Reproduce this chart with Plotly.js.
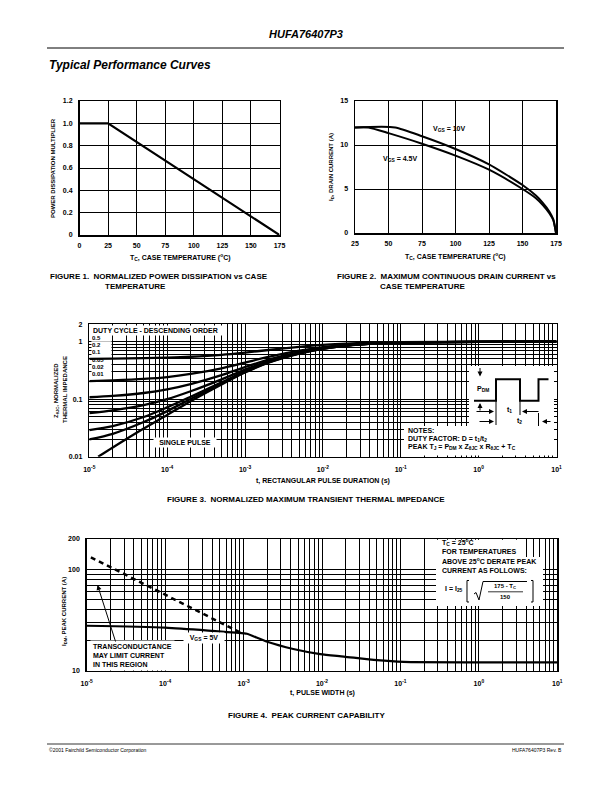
<!DOCTYPE html>
<html><head><meta charset="utf-8">
<script src="https://cdn.plot.ly/plotly-3.0.1.min.js"></script>
<style>html,body{margin:0;padding:0;background:#fff}#chart{width:612px;height:792px}</style>
</head><body><div id="chart"></div>
<script>
// ---------- Figure 1 data ----------
const fig1Temp = [0, 25, 175];
const fig1Mult = [1.0, 1.0, 0.0];
const fig1XTicks = [0, 25, 50, 75, 100, 125, 150, 175];
const fig1YTicks = [0, 0.2, 0.4, 0.6, 0.8, 1.0, 1.2];
const fig1YText = ['0', '0.2', '0.4', '0.6', '0.8', '1.0', '1.2'];

// ---------- Figure 2 data ----------
const fig2Temp10 = [25, 55, 75, 100, 125, 150, 160, 165, 170, 173, 175];
const fig2Id10 = [12, 12, 11.0, 9.55, 7.8, 5.45, 4.25, 3.45, 2.45, 1.55, 0];
const fig2Temp45 = [25, 35, 50, 75, 100, 125, 150, 160, 165, 170, 173, 175];
const fig2Id45 = [12, 12, 11.35, 10.15, 8.8, 7.2, 5.0, 3.95, 3.2, 2.25, 1.45, 0];
const fig2XTicks = [25, 50, 75, 100, 125, 150, 175];
const fig2YTicks = [0, 5, 10, 15];

// ---------- Figure 3 data ----------
const fig3Time = [1e-5, 2e-5, 5e-5, 1e-4, 2e-4, 5e-4, 1e-3, 2e-3, 5e-3, 1e-2, 2e-2, 5e-2, 1e-1, 1, 10];
const fig3Z_D05  = [0.50, 0.505, 0.515, 0.527, 0.546, 0.59, 0.645, 0.715, 0.81, 0.875, 0.925, 0.965, 0.98, 0.995, 1.0];
const fig3Z_D02  = [0.205, 0.212, 0.225, 0.242, 0.274, 0.344, 0.432, 0.544, 0.696, 0.80, 0.88, 0.944, 0.968, 0.992, 1.0];
const fig3Z_D01  = [0.108, 0.114, 0.128, 0.148, 0.183, 0.262, 0.361, 0.487, 0.658, 0.775, 0.865, 0.937, 0.964, 0.991, 1.0];
const fig3Z_D005 = [0.057, 0.064, 0.079, 0.100, 0.137, 0.221, 0.326, 0.459, 0.639, 0.763, 0.858, 0.934, 0.962, 0.99, 1.0];
const fig3Z_D002 = [0.029, 0.034, 0.049, 0.072, 0.110, 0.196, 0.304, 0.441, 0.628, 0.755, 0.853, 0.931, 0.961, 0.99, 1.0];
const fig3Z_D001 = [0.020, 0.025, 0.040, 0.062, 0.101, 0.188, 0.297, 0.436, 0.624, 0.753, 0.852, 0.931, 0.96, 0.99, 1.0];
const fig3SingleTime = [1.3e-5, 2e-5, 5e-5, 1e-4, 2e-4, 5e-4, 1e-3, 2e-3, 5e-3, 1e-2, 2e-2, 5e-2, 1e-1, 1, 10];
const fig3Z_Single = [0.01, 0.0145, 0.031, 0.053, 0.092, 0.18, 0.29, 0.43, 0.62, 0.75, 0.85, 0.93, 0.96, 0.99, 1.0];
const fig3DutyLabels = ['0.5', '0.2', '0.1', '0.05', '0.02', '0.01'];
const fig3YTicks = [0.01, 0.1, 1, 2];
const fig3YText = ['0.01', '0.1', '1', '2'];

// ---------- Figure 4 data ----------
const fig4TimeVgs = [1e-5, 1e-4, 1e-3, 1.1e-3, 2e-3, 4.3e-3, 9.5e-3, 1.9e-2, 5e-2, 1.1e-1, 1, 10];
const fig4IVgs = [27.8, 26.6, 23.4, 23.2, 19.3, 16.4, 14.6, 13.8, 12.7, 12.2, 12.1, 12.1];
const fig4TimeGm = [1.13e-5, 7.8e-5, 9e-4];
const fig4IGm = [132, 62.5, 23.9];
const fig4YTicks = [10, 100, 200];
const fig4YText = ['10', '100', '200'];

// ---------- shared log x ticks ----------
const logXTicks = [1e-5, 1e-4, 1e-3, 1e-2, 1e-1, 1, 10];
const logXText = ['10<sup>-5</sup>', '10<sup>-4</sup>', '10<sup>-3</sup>', '10<sup>-2</sup>', '10<sup>-1</sup>', '10<sup>0</sup>', '10<sup>1</sup>'];

// ---------- layout helpers (page pixel -> paper) ----------
const W = 612, H = 792;
const px = v => v / W;
const py = v => 1 - v / H;
const F = 'Liberation Sans, Arial, sans-serif';
const FN = 'Liberation Sans Narrow, Liberation Sans, Arial, sans-serif';

function axisBase(extra) {
  return Object.assign({
    showgrid: true, gridcolor: '#000', gridwidth: 1,
    showline: true, mirror: true, linecolor: '#000', linewidth: 1.5,
    ticks: '', zeroline: false, fixedrange: true,
    tickfont: { family: F, size: 7, color: '#000', weight: 'bold' },
    tickmode: 'array'
  }, extra);
}
const minorLog = { showgrid: true, gridcolor: '#000', gridwidth: 1, dtick: 'D1', ticks: '' };

const line = (w, dash) => ({ color: '#000', width: w, dash: dash || 'solid' });

const traces = [
  { x: fig1Temp, y: fig1Mult, xaxis: 'x', yaxis: 'y', mode: 'lines', line: line(2.2), name: 'fig1' },
  { x: fig2Temp10, y: fig2Id10, xaxis: 'x2', yaxis: 'y2', mode: 'lines', line: Object.assign(line(2), { shape: 'spline', smoothing: 0.6 }), name: 'VGS 10V' },
  { x: fig2Temp45, y: fig2Id45, xaxis: 'x2', yaxis: 'y2', mode: 'lines', line: Object.assign(line(2), { shape: 'spline', smoothing: 0.6 }), name: 'VGS 4.5V' },
];
const fig3Series = [fig3Z_D05, fig3Z_D02, fig3Z_D01, fig3Z_D005, fig3Z_D002, fig3Z_D001];
fig3Series.forEach((ys, i) => traces.push({ x: fig3Time, y: ys, xaxis: 'x3', yaxis: 'y3', mode: 'lines', line: Object.assign(line(2.3), { shape: 'spline', smoothing: 0.8 }), name: 'D=' + fig3DutyLabels[i] }));
traces.push({ x: fig3SingleTime, y: fig3Z_Single, xaxis: 'x3', yaxis: 'y3', mode: 'lines', line: Object.assign(line(2.3), { shape: 'spline', smoothing: 0.8 }), name: 'single' });
traces.push({ x: fig4TimeGm, y: fig4IGm, xaxis: 'x4', yaxis: 'y4', mode: 'lines', line: line(2.5, '5px,4px'), name: 'gm' });
traces.push({ x: fig4TimeVgs, y: fig4IVgs, xaxis: 'x4', yaxis: 'y4', mode: 'lines', line: Object.assign(line(2.2), { shape: 'spline', smoothing: 0.6 }), name: 'VGS 5V' });

const annotations = [];
function ann(text, x, y, o) {
  annotations.push(Object.assign({
    text: text, x: px(x), y: py(y), xref: 'paper', yref: 'paper', showarrow: false,
    xanchor: 'left', yanchor: 'middle', font: { family: F, size: 7, color: '#000' }
  }, o || {}));
}
const fontB = (s, fam) => ({ family: fam || F, size: s, color: '#000', weight: 'bold' });

// page header / footer
ann('<b><i>HUFA76407P3</i></b>', 306, 34, { xanchor: 'center', font: { family: F, size: 11, color: '#000' } });
ann('<b><i>Typical Performance Curves</i></b>', 47, 65, { font: { family: F, size: 12, color: '#000' } });
ann('©2001 Fairchild Semiconductor Corporation', 47, 750, { font: { family: F, size: 5, color: '#000' } });
ann('HUFA76407P3 Rev. B', 564, 750, { xanchor: 'right', font: { family: F, size: 5, color: '#000' } });

// Figure 1 texts
ann('<b>POWER DISSIPATION MULTIPLIER</b>', 53, 168, { xanchor: 'center', textangle: -90, font: fontB(6) });
ann('<b>T<sub>C</sub>, CASE TEMPERATURE (<sup>o</sup>C)</b>', 180, 258, { xanchor: 'center', font: fontB(7) });
ann('<b>FIGURE 1.  NORMALIZED POWER DISSIPATION vs CASE</b>', 48, 276, { font: fontB(8, FN) });
ann('<b>TEMPERATURE</b>', 103, 286, { font: fontB(8, FN) });

// Figure 2 texts
ann('<b>I<sub>D</sub>, DRAIN CURRENT (A)</b>', 331, 167, { xanchor: 'center', textangle: -90, font: fontB(6) });
ann('<b>T<sub>C</sub>, CASE TEMPERATURE (<sup>o</sup>C)</b>', 455, 256, { xanchor: 'center', font: fontB(7) });
ann('<b>V<sub>GS</sub> = 10V</b>', 431, 129, { font: fontB(7) });
ann('<b>V<sub>GS</sub> = 4.5V</b>', 381, 159, { font: fontB(7) });
ann('<b>FIGURE 2.  MAXIMUM CONTINUOUS DRAIN CURRENT vs</b>', 335, 276, { font: fontB(8, FN) });
ann('<b>CASE TEMPERATURE</b>', 378, 286, { font: fontB(8, FN) });

// Figure 3 texts
ann('<b>Z<sub>θJC</sub>, NORMALIZED</b>', 56, 390, { xanchor: 'center', textangle: -90, font: fontB(6) });
ann('<b>THERMAL IMPEDANCE</b>', 65, 390, { xanchor: 'center', textangle: -90, font: fontB(6) });
ann('<b>t, RECTANGULAR PULSE DURATION (s)</b>', 323, 481, { xanchor: 'center', font: fontB(7) });
ann('<b>DUTY CYCLE - DESCENDING ORDER</b>', 90.5, 330.5, { bgcolor: '#fff', width: 130, align: 'left', borderpad: 1, font: fontB(7) });
const dutyY = [338, 345, 352, 360, 367, 374];
fig3DutyLabels.forEach((t, i) => ann('<b>' + t + '</b>', 90.5, dutyY[i], { bgcolor: i === 3 ? 'rgba(0,0,0,0)' : '#fff', width: 19, align: 'left', borderpad: 0, font: fontB(6) }));
ann('<b>SINGLE PULSE</b>', 184.5, 442, { xanchor: 'center', bgcolor: '#fff', width: 60, borderpad: 1, font: fontB(7) });
ann('<b>NOTES:</b>', 406, 430.5, { font: fontB(7) });
ann('<b>DUTY FACTOR: D = t<sub>1</sub>/t<sub>2</sub></b>', 406, 438.5, { font: fontB(7) });
ann('<b>PEAK T<sub>J</sub> = P<sub>DM</sub> x Z<sub>θJC</sub> x R<sub>θJC</sub> + T<sub>C</sub></b>', 406, 446.5, { font: fontB(7) });
ann('<b>P<sub>DM</sub></b>', 475, 389, { font: fontB(7) });
ann('<b>t<sub>1</sub></b>', 505, 410, { font: fontB(7) });
ann('<b>t<sub>2</sub></b>', 515, 421, { font: fontB(7) });
ann('<b>FIGURE 3.  NORMALIZED MAXIMUM TRANSIENT THERMAL IMPEDANCE</b>', 306, 500, { xanchor: 'center', font: fontB(8, FN) });

// arrows in pulse diagram
function arrow(hx, hy, tx, ty) {
  annotations.push({ x: px(hx), y: py(hy), xref: 'paper', yref: 'paper', ax: tx - hx, ay: ty - hy, axref: 'pixel', ayref: 'pixel',
    text: '', showarrow: true, arrowhead: 2, arrowsize: 1, arrowwidth: 1, arrowcolor: '#000' });
}
arrow(480, 376.5, 480, 366.5);
arrow(480, 403, 480, 412);
arrow(494, 411.5, 475, 411.5);
arrow(522, 411.5, 540, 411.5);
arrow(494, 421.5, 478, 421.5);
arrow(542, 421.5, 552, 421.5);

// Figure 4 texts
ann('<b>I<sub>DM</sub>, PEAK CURRENT (A)</b>', 64, 612, { xanchor: 'center', textangle: -90, font: fontB(6) });
ann('<b>t, PULSE WIDTH (s)</b>', 322, 693, { xanchor: 'center', font: fontB(7) });
ann('<b>V<sub>GS</sub> = 5V</b>', 203.5, 638, { xanchor: 'center', bgcolor: '#fff', width: 38, borderpad: 1, font: fontB(7) });
ann('<b>TRANSCONDUCTANCE<br>MAY LIMIT CURRENT<br>IN THIS REGION</b>', 90, 655.5, { bgcolor: '#fff', align: 'left', borderpad: 2, font: fontB(7) });
annotations.push({ x: px(97.5), y: py(585), xref: 'paper', yref: 'paper', ax: 116 - 97.5, ay: 643 - 585, axref: 'pixel', ayref: 'pixel',
  text: '', showarrow: true, arrowhead: 2, arrowsize: 1, arrowwidth: 1, arrowcolor: '#000' });
ann('<b>T<sub>C</sub> = 25<sup>o</sup>C</b>', 440, 542, { font: fontB(7) });
ann('<b>FOR TEMPERATURES</b>', 440, 551.5, { font: fontB(7) });
ann('<b>ABOVE 25<sup>o</sup>C DERATE PEAK</b>', 440, 561, { font: fontB(7) });
ann('<b>CURRENT AS FOLLOWS:</b>', 440, 570.5, { font: fontB(7) });
ann('<b>I = I<sub>25</sub></b>', 443, 589, { font: fontB(7) });
ann('<b>175 - T<sub>C</sub></b>', 505, 586.5, { xanchor: 'center', font: fontB(6) });
ann('<b>150</b>', 505, 597, { xanchor: 'center', font: fontB(6) });
ann('<b>FIGURE 4.  PEAK CURRENT CAPABILITY</b>', 306, 715, { xanchor: 'center', font: fontB(8, FN) });

// ---------- shapes ----------
const shapes = [];
function rect(x0, y0, x1, y1) { shapes.push({ type: 'rect', xref: 'paper', yref: 'paper', x0: px(x0), x1: px(x1), y0: py(y1), y1: py(y0), fillcolor: '#fff', line: { width: 0 }, layer: 'above' }); }
function seg(x0, y0, x1, y1, w) { shapes.push({ type: 'line', xref: 'paper', yref: 'paper', x0: px(x0), x1: px(x1), y0: py(y0), y1: py(y1), line: { color: '#000', width: w || 1 }, layer: 'above' }); }
function path(pts, w) {
  const d = pts.map((p, i) => (i ? 'L' : 'M') + px(p[0]).toFixed(5) + ',' + py(p[1]).toFixed(5)).join(' ');
  shapes.push({ type: 'path', xref: 'paper', yref: 'paper', path: d, line: { color: '#000', width: w || 1 }, layer: 'above' });
}
// header / footer rules
shapes.push({ type: 'line', xref: 'paper', yref: 'paper', x0: px(47), x1: px(564), y0: py(48), y1: py(48), line: { color: '#000', width: 1 } });
shapes.push({ type: 'line', xref: 'paper', yref: 'paper', x0: px(47), x1: px(564), y0: py(744), y1: py(744), line: { color: '#000', width: 0.8 } });
// fig 3 notes and pulse boxes
rect(404, 426, 554, 455.5);
rect(469, 366, 554, 426);
// pulse waveform
path([[474, 400.7], [496, 400.7], [496, 379.3], [520, 379.3], [520, 400.7], [538.5, 400.7], [538.5, 379.3], [548.5, 379.3]], 2);
seg(496, 400.7, 496, 425);
seg(520, 400.7, 520, 415);
seg(538.5, 413, 538.5, 426);
// fig 4 text box
rect(436, 539.8, 521, 557);
rect(436, 557, 543, 606);
// formula: brackets, radical, fraction bar
path([[469, 580.5], [467, 580.5], [467, 602], [469, 602]], 1);
path([[531, 580.5], [533, 580.5], [533, 602], [531, 602]], 1);
path([[474, 594], [476, 592.5], [479, 600], [483, 581.5], [527, 581.5]], 1);
seg(488, 591.8, 523, 591.8, 0.8);

const xs = { ticklabelstandoff: 3 };
const ys = { ticklabelstandoff: 4 };
const layout = {
  width: W, height: H, margin: { l: 0, r: 0, t: 0, b: 0 },
  paper_bgcolor: '#fff', plot_bgcolor: '#fff', showlegend: false,
  font: { family: F, color: '#000' },
  xaxis: axisBase(Object.assign({ domain: [px(79.5), px(279.5)], range: [0, 175], tickvals: fig1XTicks, anchor: 'y' }, xs)),
  yaxis: axisBase(Object.assign({ domain: [py(235), py(101)], range: [0, 1.2], tickvals: fig1YTicks, ticktext: fig1YText, anchor: 'x' }, ys)),
  xaxis2: axisBase(Object.assign({ domain: [px(355), px(556)], range: [25, 175], tickvals: fig2XTicks, anchor: 'y2' }, xs)),
  yaxis2: axisBase(Object.assign({ domain: [py(233), py(101)], range: [0, 15], tickvals: fig2YTicks, anchor: 'x2' }, ys)),
  xaxis3: axisBase(Object.assign({ type: 'log', domain: [px(89.3), px(556.5)], range: [-5, 1], tickvals: logXTicks, ticktext: logXText, anchor: 'y3', minor: minorLog }, xs, { ticklabelstandoff: 5 })),
  yaxis3: axisBase(Object.assign({ type: 'log', domain: [py(456.7), py(324.3)], range: [-2, Math.log10(2)], tickvals: fig3YTicks, ticktext: fig3YText, anchor: 'x3', minor: minorLog }, ys)),
  xaxis4: axisBase(Object.assign({ type: 'log', domain: [px(86.7), px(557.3)], range: [-5, 1], tickvals: logXTicks, ticktext: logXText, anchor: 'y4', minor: minorLog }, xs, { ticklabelstandoff: 5 })),
  yaxis4: axisBase(Object.assign({ type: 'log', domain: [py(670.7), py(539)], range: [1, Math.log10(200)], tickvals: fig4YTicks, ticktext: fig4YText, anchor: 'x4', minor: minorLog }, ys)),
  annotations: annotations,
  shapes: shapes
};

Plotly.newPlot('chart', traces, layout, { staticPlot: true, displayModeBar: false });
</script>
</body></html>
